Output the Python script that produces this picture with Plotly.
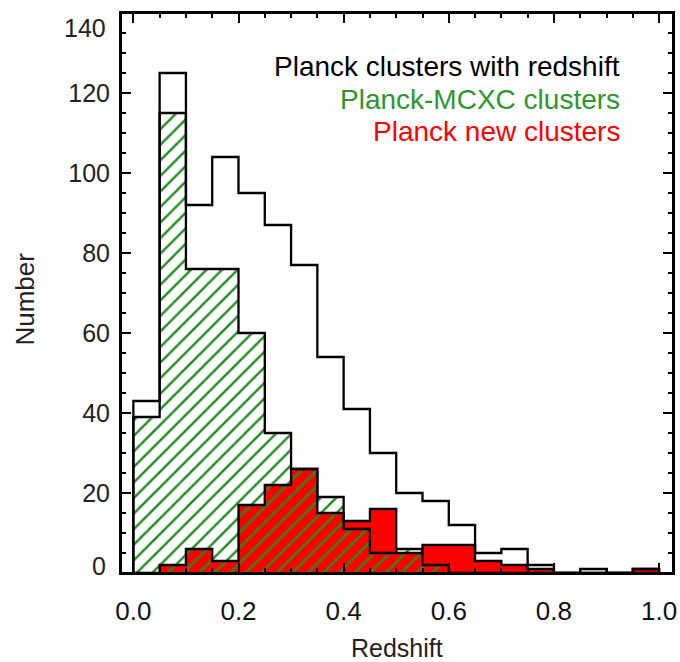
import plotly.graph_objects as go

# Histogram bins (redshift), width 0.05 from 0.0 to 1.0
bin_edges = [round(0.05 * i, 2) for i in range(21)]

total_counts = [43, 125, 92, 104, 95, 87, 77, 54, 41, 30, 20, 18, 12, 5, 6, 2, 0, 1, 0, 1]
mcxc_counts = [39, 115, 76, 76, 60, 35, 26, 19, 11, 5, 6, 2, 0, 0, 0, 0, 0, 0, 0, 0]
new_counts = [0, 2, 6, 3, 17, 22, 26, 15, 13, 16, 5, 7, 7, 3, 2, 1, 0, 0, 0, 1]

legend_labels = ["Planck clusters with redshift", "Planck-MCXC clusters", "Planck new clusters"]
legend_colors = ["#000000", "#2E962E", "#FF0000"]

x_ticks = [0.0, 0.2, 0.4, 0.6, 0.8, 1.0]
x_ticktext = ["0.0", "0.2", "0.4", "0.6", "0.8", "1.0"]
y_ticks = [0, 20, 40, 60, 80, 100, 120, 140]
y_ticktext = ["0", "20", "40", "60", "80", "100", "120", "140"]

GREEN = "#228B22"
FONT = "Liberation Sans, Arial, Helvetica, sans-serif"
YLAB_COLOR = "#222222"

centers = [(bin_edges[i] + bin_edges[i + 1]) / 2 for i in range(len(bin_edges) - 1)]
widths = [bin_edges[i + 1] - bin_edges[i] for i in range(len(bin_edges) - 1)]


def step(edges, counts):
    xs, ys = [edges[0]], [0]
    for i, c in enumerate(counts):
        xs += [edges[i], edges[i + 1]]
        ys += [c, c]
    xs.append(edges[-1])
    ys.append(0)
    return xs, ys


fig = go.Figure()

# red filled bars (new clusters)
fig.add_trace(go.Bar(x=centers, y=new_counts, width=widths,
                     marker=dict(color="#FF0000", line=dict(width=0)),
                     showlegend=False))

# green hatched bars (MCXC)
fig.add_trace(go.Bar(x=centers, y=mcxc_counts, width=widths,
                     marker=dict(color="rgba(0,0,0,0)", line=dict(width=0),
                                 pattern=dict(shape="/", fgcolor=GREEN, bgcolor="rgba(0,0,0,0)",
                                              fgopacity=1, fillmode="overlay", size=11, solidity=0.22)),
                     showlegend=False))

# step outlines
for counts in (new_counts, mcxc_counts, total_counts):
    xs, ys = step(bin_edges, counts)
    fig.add_trace(go.Scatter(x=xs, y=ys, mode="lines",
                             line=dict(color="black", width=2.3),
                             showlegend=False, hoverinfo="skip"))

# legend text
legend_y = [0.904, 0.846, 0.788]
for txt, col, yy in zip(legend_labels, legend_colors, legend_y):
    fig.add_annotation(text=txt, x=0.907, y=yy, xref="paper", yref="paper",
                       xanchor="right", yanchor="middle", showarrow=False,
                       font=dict(family=FONT, size=28, color=col))

# end y tick labels: nudged inside the frame height, as in the original
fig.add_annotation(text=y_ticktext[-1], x=-0.0236, y=y_ticks[-1], xref="paper", yref="y",
                   xanchor="right", yanchor="middle", yshift=-15, showarrow=False,
                   font=dict(family=FONT, size=25, color=YLAB_COLOR))
fig.add_annotation(text=y_ticktext[0], x=-0.0236, y=y_ticks[0], xref="paper", yref="y",
                   xanchor="right", yanchor="middle", yshift=7, showarrow=False,
                   font=dict(family=FONT, size=25, color=YLAB_COLOR))

# axis titles
fig.add_annotation(text="Redshift", x=0.5, y=-0.134, xref="paper", yref="paper",
                   xanchor="center", yanchor="middle", showarrow=False,
                   font=dict(family=FONT, size=25, color="#222222"))
fig.add_annotation(text="Number", x=-0.174, y=0.49, xref="paper", yref="paper",
                   xanchor="center", yanchor="middle", showarrow=False, textangle=-90,
                   font=dict(family=FONT, size=26, color="#222222"))

# frame
fig.add_shape(type="rect", xref="paper", yref="paper", x0=0, y0=0, x1=1, y1=1,
              line=dict(color="black", width=2), layer="above")

axis_common = dict(showline=True, linecolor="black", linewidth=2, mirror="allticks",
                   ticks="inside", ticklen=10, tickwidth=2, tickcolor="black",
                   showgrid=False, zeroline=False, automargin=False)

fig.update_layout(
    width=680, height=662,
    margin=dict(l=121, r=7, t=13, b=89, autoexpand=False),
    paper_bgcolor="white", plot_bgcolor="white",
    barmode="overlay", bargap=0,
    font=dict(family=FONT, color="black"),
    xaxis=dict(range=[-0.0235, 1.0265], tickvals=x_ticks, ticktext=x_ticktext,
               tickfont=dict(size=26, color="#111111"), ticklabelstandoff=14,
               minor=dict(dtick=0.05, tick0=0, ticklen=5, tickwidth=2, ticks="inside", tickcolor="black"),
               **axis_common),
    yaxis=dict(range=[0, 140], tickvals=y_ticks,
               ticktext=[""] + y_ticktext[1:-1] + [""],
               tickfont=dict(size=25, color=YLAB_COLOR), ticklabelstandoff=4,
               minor=dict(dtick=5, tick0=0, ticklen=5, tickwidth=2, ticks="inside", tickcolor="black"),
               **axis_common),
)

fig.write_html("out.html", config={"displayModeBar": False},
               post_script="document.body.style.margin='0';document.body.style.overflow='hidden';")
